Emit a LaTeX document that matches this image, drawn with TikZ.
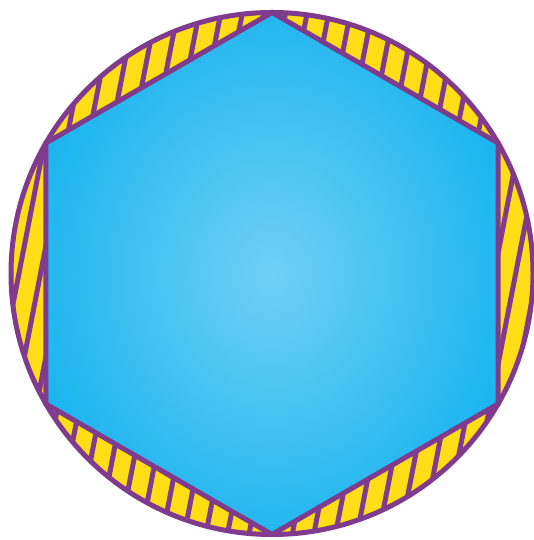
\documentclass[tikz,border=0pt]{standalone}
\definecolor{ringpurple}{RGB}{128,58,142}
\definecolor{ringyellow}{RGB}{255,221,23}
\definecolor{hexlight}{RGB}{112,208,246}
\definecolor{hexblue}{RGB}{0,172,236}
\pgfdeclareradialshading{hexglow}{\pgfpoint{0bp}{0bp}}{color(0bp)=(hexlight); color(36bp)=(hexblue); color(50bp)=(hexblue)}
\begin{document}
\begin{tikzpicture}[x=1pt,y=1pt]
  \useasboundingbox (0,0) rectangle (534,540);
  \begin{scope}[shift={(272,266.5)}]
    \fill[ringyellow] (0,0) circle (261);
    \begin{scope}
      \clip (0,0) circle (261);
      \foreach \k in {-14,...,14} {
        \draw[ringpurple,line width=5pt,rotate=-11] (\k*21.2+6,-290) -- (\k*21.2+6,290);
      }
    \end{scope}
    \shade[shading=hexglow,draw=ringpurple,line width=5pt]
      (90:261) -- (150:261) -- (210:261) -- (270:261) -- (330:261) -- (30:261) -- cycle;
    \draw[ringpurple,line width=5pt] (0,0) circle (261);
  \end{scope}
\end{tikzpicture}
\end{document}
